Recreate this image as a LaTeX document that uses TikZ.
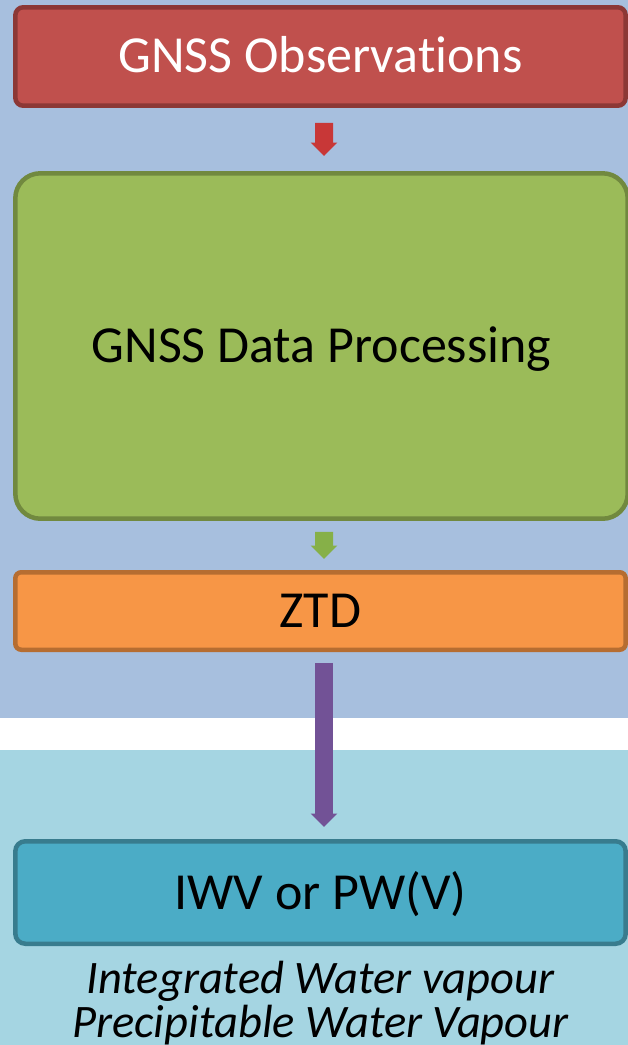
\documentclass[tikz,border=0pt]{standalone}
\usepackage{fontspec}
\setmainfont[Ligatures=NoCommon]{Carlito}
\usetikzlibrary{arrows.meta,positioning}

\definecolor{bgtop}{RGB}{167,191,222}
\definecolor{bgbottom}{RGB}{165,213,226}
\definecolor{obsfill}{RGB}{192,80,77}
\definecolor{obsline}{RGB}{140,56,54}
\definecolor{procfill}{RGB}{155,187,89}
\definecolor{procline}{RGB}{113,137,63}
\definecolor{ztdfill}{RGB}{247,150,70}
\definecolor{ztdline}{RGB}{182,109,49}
\definecolor{iwvfill}{RGB}{75,172,198}
\definecolor{iwvline}{RGB}{56,124,142}
\definecolor{redarrow}{RGB}{200,55,55}
\definecolor{greenarrow}{RGB}{134,176,72}
\definecolor{purplearrow}{RGB}{114,82,150}

\tikzset{
	stagebox/.style = {draw, line width=0.09cm, outer sep=0pt, inner sep=0pt,
		minimum width=12.21cm, text height=0.66cm, text depth=0pt,
		font=\fontsize{29.6}{32}\selectfont},
	flowarrow/.style = {line width=0.36cm, -{Triangle[length=0.27cm,width=0.52cm]}},
	desctext/.style = {align=center, inner sep=0pt, font=\fontsize{26.5}{25}\selectfont\itshape}
}

\begin{document}
\begin{tikzpicture}[x=0.02cm, y=-0.02cm]
		\useasboundingbox (0,0) rectangle (628,1045);
		\clip (0,0) rectangle (628,1045);
		\fill[bgtop] (0,0) rectangle (628,718);
		\fill[white] (0,718) rectangle (628,750);
		\fill[bgbottom] (0,750) rectangle (628,1045);

		\node[stagebox, fill=obsfill, draw=obsline, text=white, rounded corners=0.16cm,
			minimum height=1.97cm] (obs) at (320.5,56.5) {GNSS Observations};
		\node[stagebox, fill=procfill, draw=procline, rounded corners=0.5cm,
			minimum width=12.25cm, minimum height=6.91cm] (proc) at (321.5,346) {GNSS Data Processing};
		\node[stagebox, fill=ztdfill, draw=ztdline, rounded corners=0.12cm,
			minimum height=1.55cm] (ztd) at (320.5,611) {ZTD};
		\node[stagebox, fill=iwvfill, draw=iwvline, rounded corners=0.2cm,
			minimum height=2.05cm] (iwv) at (320.5,892.5) {IWV or PW(V)};

		\node[desctext, below=0.34cm of iwv] (desc) {Integrated Water vapour\\Precipitable Water Vapour};

		\draw[flowarrow, redarrow, shorten <=0.345cm, shorten >=0.345cm]
			([xshift=0.07cm]obs.south) -- ([xshift=0.05cm]proc.north);
		\draw[flowarrow, greenarrow, shorten <=0.265cm, shorten >=0.265cm]
			([xshift=0.05cm]proc.south) -- ([xshift=0.07cm]ztd.north);
		\draw[flowarrow, purplearrow, line width=0.35cm, shorten <=0.265cm, shorten >=0.285cm]
			([xshift=0.07cm]ztd.south) -- ([xshift=0.07cm]iwv.north);
\end{tikzpicture}
\end{document}
